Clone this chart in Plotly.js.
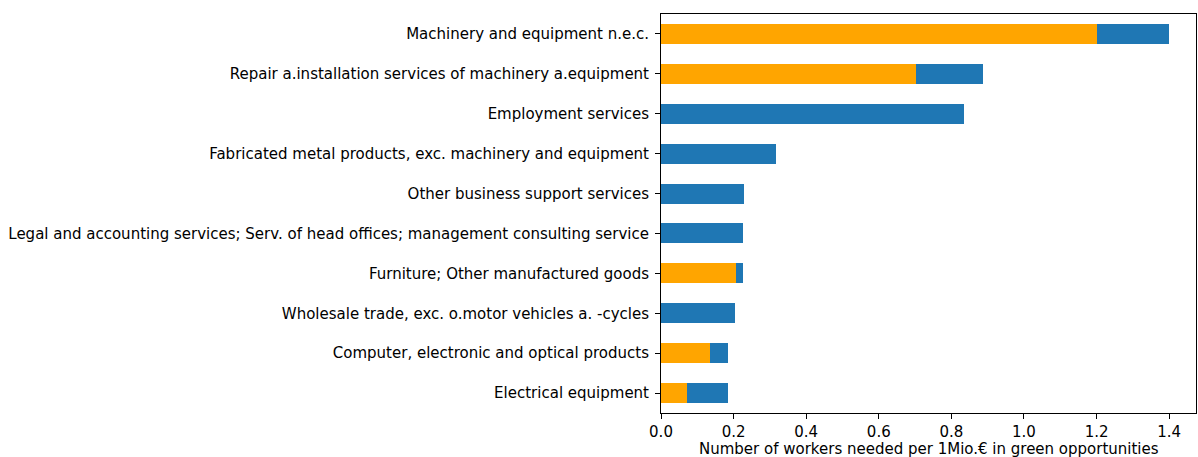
<!DOCTYPE html>
<html>
<head>
<meta charset="utf-8">
<script src="https://cdn.plot.ly/plotly-3.0.1.min.js"></script>
<style>html,body{margin:0;padding:0;background:#fff;}</style>
</head>
<body>
<div id="chart" style="width:1198px;height:457px;"></div>
<script>
const categories = [
  "Machinery and equipment n.e.c.",
  "Repair a.installation services of machinery a.equipment",
  "Employment services",
  "Fabricated metal products, exc. machinery and equipment",
  "Other business support services",
  "Legal and accounting services; Serv. of head offices; management consulting service",
  "Furniture; Other manufactured goods",
  "Wholesale trade, exc. o.motor vehicles a. -cycles",
  "Computer, electronic and optical products",
  "Electrical equipment"
];
const orangeValues = [1.200, 0.703, 0, 0, 0, 0, 0.207, 0, 0.136, 0.071];
const blueValues   = [0.200, 0.183, 0.835, 0.317, 0.228, 0.225, 0.018, 0.204, 0.048, 0.113];
const xTicks = [0, 0.2, 0.4, 0.6, 0.8, 1.0, 1.2, 1.4];
const xTickLabels = ["0.0", "0.2", "0.4", "0.6", "0.8", "1.0", "1.2", "1.4"];
const xTitle = "Number of workers needed per 1Mio.€ in green opportunities";

const font = {family: "DejaVu Sans", size: 15, color: "#000"};
const traces = [
  {type: "bar", orientation: "h", y: categories, x: orangeValues,
   marker: {color: "#FFA500", line: {width: 0}}, width: 0.5, hoverinfo: "x+y"},
  {type: "bar", orientation: "h", y: categories, x: blueValues,
   marker: {color: "#1f77b4", line: {width: 0}}, width: 0.5, hoverinfo: "x+y"}
];
const layout = {
  width: 1198, height: 457,
  margin: {l: 661, r: 2, t: 14, b: 44, pad: 0},
  barmode: "stack",
  showlegend: false,
  paper_bgcolor: "#fff", plot_bgcolor: "#fff",
  font: font,
  xaxis: {
    range: [0, 1.474],
    tickvals: xTicks, ticktext: xTickLabels,
    ticks: "outside", ticklen: 5, tickwidth: 1, tickcolor: "#000",
    showgrid: false, zeroline: false,
    showline: true, linecolor: "#000", linewidth: 1, mirror: true,
    tickfont: font
  },
  yaxis: {
    type: "category",
    categoryorder: "array", categoryarray: categories.slice().reverse(),
    range: [-0.5, 9.5],
    ticks: "outside", ticklen: 5, tickwidth: 1, tickcolor: "#000",
    showgrid: false, zeroline: false,
    showline: true, linecolor: "#000", linewidth: 1, mirror: true,
    tickfont: font, ticklabelstandoff: 3
  },
  annotations: [{
    text: xTitle, xref: "paper", yref: "paper", x: 0.5, y: -0.062,
    xanchor: "center", yanchor: "top", showarrow: false, font: font
  }]
};
Plotly.newPlot("chart", traces, layout, {displayModeBar: false, staticPlot: true});
</script>
</body>
</html>
